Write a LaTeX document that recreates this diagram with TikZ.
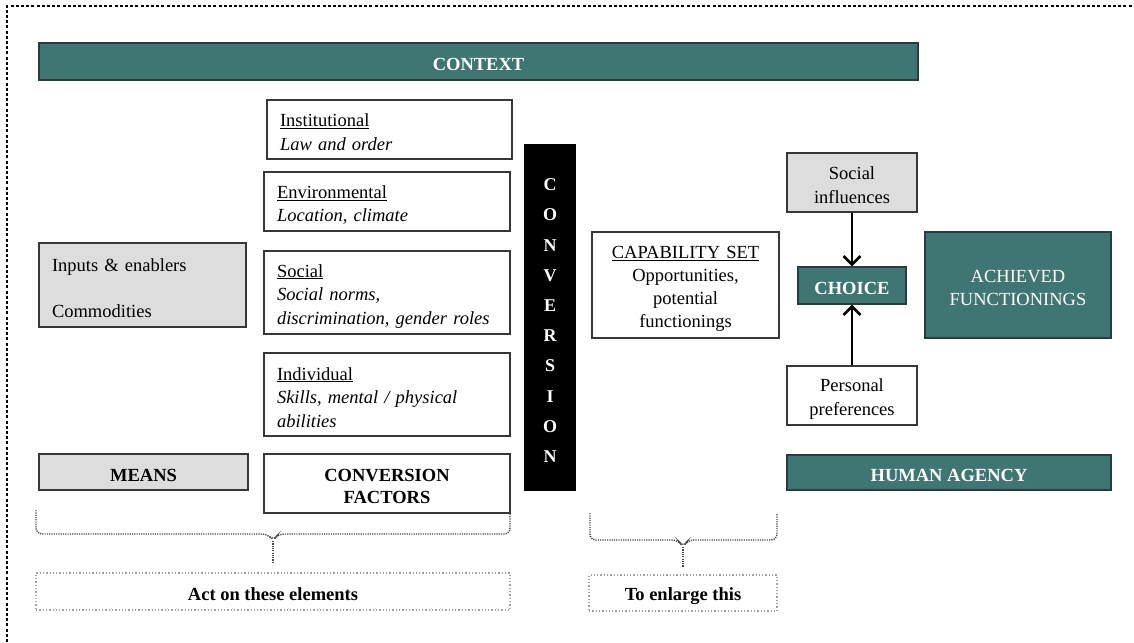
\documentclass[tikz,border=0pt]{standalone}
\usepackage{fontspec}
\setmainfont{Liberation Serif}
\usetikzlibrary{arrows.meta}

\definecolor{tealbox}{RGB}{63,117,115}
\definecolor{tealedge}{RGB}{40,62,62}
\definecolor{greybox}{RGB}{221,221,221}
\definecolor{boxedge}{RGB}{55,55,55}
\definecolor{braceink}{RGB}{70,70,70}
\definecolor{dotink}{RGB}{160,160,160}

\tikzset{
  base/.style={rectangle, inner sep=0pt, line width=1.2pt,
    font=\fontsize{18.5}{23.5}\selectfont,
    % struts so every text block sits a little low in its box
    execute at begin node={\rule{0pt}{20pt}},
    execute at end node={\rule[-2pt]{0pt}{0pt}}},
  plain/.style={base, draw=boxedge, fill=white},
  grey/.style={base, draw=boxedge, fill=greybox},
  teal/.style={base, draw=tealedge, fill=tealbox, text=white},
  leftbox/.style={align=left, inner xsep=13pt},
  midbox/.style={align=center, inner xsep=4pt},
  dotbox/.style={base, draw=dotink, line width=1.3pt,
    dash pattern=on 1.3pt off 2pt, font=\fontsize{18.5}{23.5}\selectfont\bfseries},
  brace/.style={draw=braceink, line width=1.4pt, dash pattern=on 1.2pt off 1.1pt},
  push/.style={line width=2.6pt, -{Straight Barb[length=8.5pt,width=17pt,line width=2.6pt]}}
}

\begin{document}
\begin{tikzpicture}[x=1pt,y=-1pt]
\useasboundingbox (0,0) rectangle (1134,642);

% page frame
\draw[line width=1.1pt, dash pattern=on 3pt off 2.2pt] (7,642) -- (7,6) -- (1132,6);

% context banner
\node[teal, minimum width=879pt, minimum height=37pt, font=\fontsize{18.5}{23.5}\selectfont\bfseries]
  (context) at (478.5,61.5) {CONTEXT};

% means
\node[grey, leftbox, minimum width=207pt, minimum height=84pt, text width=181pt]
  (inputs) at (142.5,285) {Inputs \& enablers\\[22.5pt]Commodities};
\node[grey, minimum width=209pt, minimum height=36pt, font=\fontsize{18.5}{23.5}\selectfont\bfseries]
  (means) at (143.5,472) {MEANS};

% conversion factors
\node[plain, leftbox, minimum width=245pt, minimum height=59pt, text width=219pt]
  (inst) at (389.5,129.5) {\underline{Institutional}\\\textit{Law and order}};
\node[plain, leftbox, minimum width=246pt, minimum height=59pt, text width=220pt]
  (env) at (387,201.5) {\underline{Environmental}\\\textit{Location, climate}};
\node[plain, leftbox, minimum width=246pt, minimum height=83pt, text width=220pt]
  (soc) at (387,292.5) {\underline{Social}\\\textit{Social norms,}\\\textit{discrimination, gender roles}};
\node[plain, leftbox, minimum width=246pt, minimum height=83pt, text width=220pt]
  (indiv) at (387,394.5) {\underline{Individual}\\\textit{Skills, mental / physical}\\\textit{abilities}};
\node[plain, midbox, minimum width=246pt, minimum height=59pt, text width=238pt,
  font=\fontsize{18.5}{22.5}\selectfont\bfseries]
  (cf) at (387,483.5) {CONVERSION\\FACTORS};

% conversion bar
\node[base, draw=black, fill=black, text=white, midbox, text width=42pt,
  minimum width=50pt, minimum height=345pt, font=\fontsize{18}{30.2}\selectfont\bfseries]
  (conv) at (550,317.5) {C\\O\\N\\V\\E\\R\\S\\I\\O\\N};

% capability set
\node[plain, midbox, minimum width=187pt, minimum height=106pt, text width=179pt,
  font=\fontsize{18.5}{23}\selectfont]
  (cap) at (685.5,285) {\underline{CAPABILITY SET}\\Opportunities,\\potential\\functionings};

% human agency
\node[grey, midbox, minimum width=130pt, minimum height=59pt, text width=122pt]
  (socinf) at (852,182.5) {Social\\influences};
\node[teal, minimum width=108pt, minimum height=37pt, font=\fontsize{18.5}{23.5}\selectfont\bfseries]
  (choice) at (852,285.5) {CHOICE};
\node[plain, midbox, minimum width=130pt, minimum height=59pt, text width=122pt]
  (pers) at (852,395.5) {Personal\\preferences};
\node[teal, midbox, minimum width=186pt, minimum height=106pt, text width=178pt]
  (achieved) at (1018,285) {ACHIEVED\\FUNCTIONINGS};
\node[teal, minimum width=324pt, minimum height=35pt, font=\fontsize{18.5}{23.5}\selectfont\bfseries]
  (agency) at (949,472.5) {HUMAN AGENCY};

\draw[push] (socinf.south) -- (choice.north);
\draw[push] (pers.north) -- (choice.south);

% captions
\node[dotbox, minimum width=474pt, minimum height=37pt] (act) at (273,591.5) {Act on these elements};
\node[dotbox, minimum width=188pt, minimum height=36pt] (enlarge) at (683,593) {To enlarge this};

% braces
\coordinate (b1l) at (36,510);
\coordinate (b1r) at (510,510);
\coordinate (b1tip) at (273,541);
\draw[brace, rounded corners=6pt] (b1l) |- (268,534) -- (b1tip) -- (278,534) -| (b1r);
\draw[brace] (b1tip) -- ([yshift=10pt]act.north);

\coordinate (b2l) at (590,513);
\coordinate (b2r) at (777,513);
\coordinate (b2tip) at (683,547);
\draw[brace, rounded corners=6pt] (b2l) |- (678,540) -- (b2tip) -- (688,540) -| (b2r);
\draw[brace] (b2tip) -- ([yshift=7pt]enlarge.north);
\end{tikzpicture}
\end{document}
